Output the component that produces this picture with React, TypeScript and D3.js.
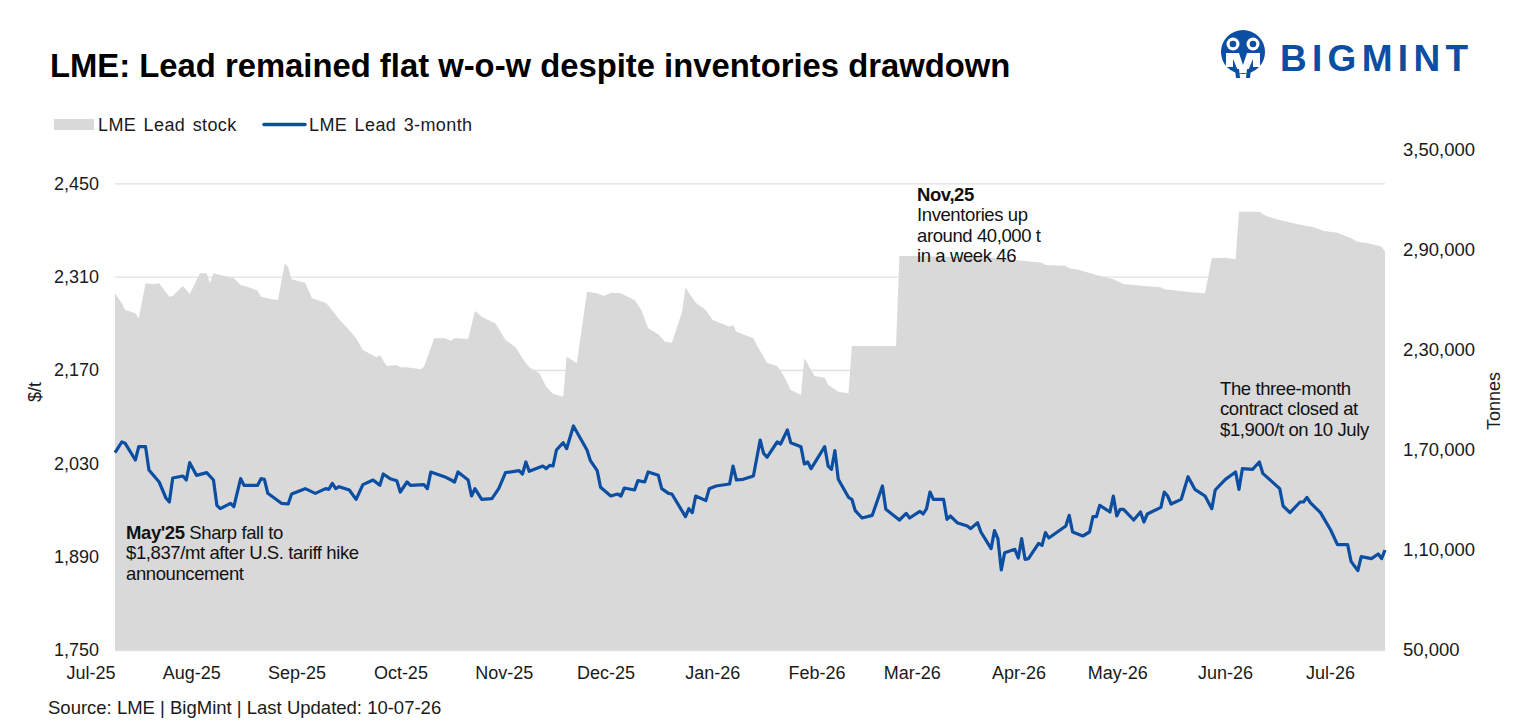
import React, { useEffect, useRef } from 'react';
import * as d3 from 'd3';

// LME lead 3-month price ($/t)
const priceDates = [
  "2025-07-01", "2025-07-03", "2025-07-04", "2025-07-07", "2025-07-08", "2025-07-10", "2025-07-11", "2025-07-14",
  "2025-07-16", "2025-07-17", "2025-07-18", "2025-07-21", "2025-07-22", "2025-07-23", "2025-07-25", "2025-07-28",
  "2025-07-30", "2025-07-31", "2025-08-01", "2025-08-04", "2025-08-05", "2025-08-07", "2025-08-08", "2025-08-12",
  "2025-08-13", "2025-08-14", "2025-08-15", "2025-08-19", "2025-08-21", "2025-08-22", "2025-08-26", "2025-08-29",
  "2025-09-01", "2025-09-02", "2025-09-03", "2025-09-04", "2025-09-05", "2025-09-08", "2025-09-10", "2025-09-12",
  "2025-09-15", "2025-09-17", "2025-09-18", "2025-09-20", "2025-09-22", "2025-09-23", "2025-09-25", "2025-09-26",
  "2025-09-30", "2025-10-01", "2025-10-02", "2025-10-06", "2025-10-08", "2025-10-09", "2025-10-10", "2025-10-13",
  "2025-10-14", "2025-10-15", "2025-10-17", "2025-10-20", "2025-10-22", "2025-10-24", "2025-10-28", "2025-10-29",
  "2025-10-30", "2025-10-31", "2025-11-04", "2025-11-05", "2025-11-06", "2025-11-07", "2025-11-08", "2025-11-10",
  "2025-11-11", "2025-11-13", "2025-11-17", "2025-11-18", "2025-11-20", "2025-11-21", "2025-11-24", "2025-11-26",
  "2025-11-27", "2025-11-28", "2025-12-01", "2025-12-02", "2025-12-04", "2025-12-05", "2025-12-08", "2025-12-09",
  "2025-12-11", "2025-12-12", "2025-12-16", "2025-12-17", "2025-12-18", "2025-12-19", "2025-12-22", "2025-12-23",
  "2025-12-25", "2025-12-29", "2025-12-30", "2025-12-31", "2026-01-02", "2026-01-05", "2026-01-07", "2026-01-08",
  "2026-01-09", "2026-01-12", "2026-01-13", "2026-01-15", "2026-01-16", "2026-01-19", "2026-01-20", "2026-01-21",
  "2026-01-22", "2026-01-26", "2026-01-27", "2026-01-28", "2026-01-29", "2026-01-30", "2026-02-02", "2026-02-03",
  "2026-02-04", "2026-02-06", "2026-02-09", "2026-02-12", "2026-02-13", "2026-02-17", "2026-02-19", "2026-02-20",
  "2026-02-23", "2026-02-24", "2026-02-25", "2026-02-26", "2026-02-27", "2026-03-02", "2026-03-03", "2026-03-04",
  "2026-03-06", "2026-03-09", "2026-03-10", "2026-03-12", "2026-03-13", "2026-03-16", "2026-03-17", "2026-03-18",
  "2026-03-19", "2026-03-20", "2026-03-23", "2026-03-24", "2026-03-25", "2026-03-26", "2026-03-27", "2026-03-30",
  "2026-03-31", "2026-04-01", "2026-04-02", "2026-04-07", "2026-04-08", "2026-04-09", "2026-04-12", "2026-04-14",
  "2026-04-15", "2026-04-16", "2026-04-17", "2026-04-20", "2026-04-21", "2026-04-22", "2026-04-23", "2026-04-24",
  "2026-04-27", "2026-04-29", "2026-04-30", "2026-05-01", "2026-05-05", "2026-05-06", "2026-05-07", "2026-05-08",
  "2026-05-11", "2026-05-13", "2026-05-15", "2026-05-18", "2026-05-20", "2026-05-21", "2026-05-24", "2026-05-27",
  "2026-05-28", "2026-05-29", "2026-06-01", "2026-06-03", "2026-06-04", "2026-06-09", "2026-06-10", "2026-06-12",
  "2026-06-15", "2026-06-16", "2026-06-17", "2026-06-18", "2026-06-21", "2026-06-24", "2026-06-26", "2026-06-29",
  "2026-06-30", "2026-07-02", "2026-07-03", "2026-07-06", "2026-07-08", "2026-07-09", "2026-07-10",
];
const priceValues = [
  2046, 2062, 2060, 2035, 2055, 2055, 2020, 2002,
  1978, 1972, 2008, 2011, 2005, 2031, 2012, 2016,
  2005, 1967, 1962, 1970, 1965, 2007, 1997, 1997,
  2007, 2006, 1985, 1970, 1969, 1984, 1992, 1985,
  1992, 1991, 2000, 1992, 1995, 1990, 1976, 1998,
  2005, 1997, 2014, 2007, 2004, 1987, 2002, 1997,
  1998, 1992, 2017, 2010, 2005, 2002, 2017, 2005,
  1981, 1992, 1976, 1977, 1992, 2016, 2019, 2014,
  2032, 2018, 2026, 2022, 2027, 2026, 2050, 2061,
  2052, 2086, 2050, 2034, 2019, 1994, 1981, 1984,
  1981, 1993, 1990, 2004, 2002, 2017, 2012, 1992,
  1985, 1984, 1950, 1962, 1956, 1981, 1974, 1992,
  1996, 1999, 2026, 2005, 2006, 2011, 2065, 2045,
  2039, 2062, 2059, 2080, 2061, 2055, 2029, 2032,
  2022, 2055, 2026, 2021, 2049, 2006, 1979, 1976,
  1959, 1948, 1952, 1996, 1961, 1945, 1955, 1948,
  1958, 1954, 1962, 1987, 1976, 1976, 1946, 1951,
  1941, 1936, 1932, 1941, 1927, 1902, 1929, 1917,
  1870, 1896, 1901, 1888, 1917, 1886, 1887, 1910,
  1907, 1926, 1918, 1936, 1952, 1927, 1921, 1927,
  1950, 1950, 1967, 1957, 1981, 1951, 1961, 1961,
  1945, 1957, 1942, 1954, 1964, 1987, 1981, 1969,
  1976, 2010, 1991, 1981, 1962, 1990, 2006, 2017,
  1991, 2022, 2021, 2032, 2015, 1992, 1966, 1956,
  1972, 1972, 1979, 1971, 1956, 1930, 1908, 1908,
  1883, 1869, 1890, 1887, 1894, 1887, 1900,
];

// LME lead stock (tonnes)
const stockDates = [
  "2025-07-01", "2025-07-03", "2025-07-04", "2025-07-07", "2025-07-08", "2025-07-10", "2025-07-12", "2025-07-14",
  "2025-07-17", "2025-07-18", "2025-07-21", "2025-07-23", "2025-07-26", "2025-07-28", "2025-07-29", "2025-07-30",
  "2025-08-01", "2025-08-05", "2025-08-07", "2025-08-09", "2025-08-12", "2025-08-13", "2025-08-15", "2025-08-16",
  "2025-08-18", "2025-08-20", "2025-08-21", "2025-08-22", "2025-08-26", "2025-08-28", "2025-09-01", "2025-09-02",
  "2025-09-05", "2025-09-08", "2025-09-10", "2025-09-12", "2025-09-16", "2025-09-17", "2025-09-19", "2025-09-22",
  "2025-09-23", "2025-09-25", "2025-09-29", "2025-09-30", "2025-10-03", "2025-10-06", "2025-10-08", "2025-10-09",
  "2025-10-13", "2025-10-15", "2025-10-17", "2025-10-20", "2025-10-21", "2025-10-24", "2025-10-27", "2025-10-29",
  "2025-10-31", "2025-11-03", "2025-11-05", "2025-11-07", "2025-11-10", "2025-11-11", "2025-11-14", "2025-11-17",
  "2025-11-20", "2025-11-22", "2025-11-24", "2025-11-27", "2025-11-29", "2025-12-01", "2025-12-03", "2025-12-05",
  "2025-12-08", "2025-12-10", "2025-12-12", "2025-12-15", "2025-12-16", "2025-12-19", "2025-12-22", "2025-12-24",
  "2025-12-29", "2025-12-30", "2025-12-31", "2026-01-05", "2026-01-06", "2026-01-09", "2026-01-12", "2026-01-14",
  "2026-01-16", "2026-01-19", "2026-01-20", "2026-01-23", "2026-01-26", "2026-01-27", "2026-01-30", "2026-02-02",
  "2026-02-03", "2026-02-16", "2026-02-17", "2026-02-22", "2026-03-18", "2026-03-31", "2026-04-01", "2026-04-07",
  "2026-04-08", "2026-04-11", "2026-04-16", "2026-04-21", "2026-04-24", "2026-04-30", "2026-05-05", "2026-05-06",
  "2026-05-14", "2026-05-18", "2026-05-20", "2026-05-24", "2026-05-27", "2026-05-28", "2026-06-03", "2026-06-05",
  "2026-06-09", "2026-06-14", "2026-06-19", "2026-06-22", "2026-06-26", "2026-06-30", "2026-07-02", "2026-07-05",
  "2026-07-09", "2026-07-10",
];
const stockValues = [
  264000, 258000, 254000, 252000, 249000, 270000, 269400, 270000,
  262000, 262400, 268400, 263400, 276000, 276000, 270000, 276000,
  275000, 273000, 269000, 268000, 265600, 262000, 261000, 260400,
  260000, 282000, 279600, 272400, 270400, 261000, 258400, 256400,
  248400, 242000, 237000, 230000, 225600, 227000, 220400, 221000,
  219600, 219600, 218400, 220000, 237000, 237000, 235600, 237000,
  236600, 253400, 250000, 247000, 246000, 236000, 231600, 225000,
  219600, 216000, 208000, 203600, 202000, 226000, 222000, 265000,
  264000, 262400, 264400, 264000, 262000, 260000, 254000, 243000,
  239400, 235000, 234400, 253000, 267400, 258400, 254000, 248000,
  244000, 245000, 241000, 237000, 233000, 222400, 220400, 214400,
  206000, 203000, 225000, 214400, 213400, 209000, 205000, 204000,
  232400, 232400, 286400, 286400, 285200, 282400, 281000, 280600,
  279000, 278000, 275000, 272400, 269600, 268400, 267600, 266400,
  264600, 264000, 285000, 285400, 284400, 313000, 313000, 310400,
  308000, 305600, 303600, 301400, 300400, 297000, 295000, 294000,
  292000, 289000,
];

const monthTicks = [
  "2025-07-01", "2025-08-01", "2025-09-01", "2025-10-01", "2025-11-01", "2025-12-01", "2026-01-01",
  "2026-02-01", "2026-03-01", "2026-04-01", "2026-05-01", "2026-06-01", "2026-07-01",
];
const priceTicks = [1750, 1890, 2030, 2170, 2310, 2450];
const stockTicks = [50000, 110000, 170000, 230000, 290000, 350000];

const FONT = "'Liberation Sans', Arial, sans-serif";
const BLUE = "#0b4ea2";

// Indian digit grouping: 3,50,000
function indian(n: number) {
  const s = Math.round(n).toString();
  if (s.length <= 3) return s;
  const last3 = s.slice(-3);
  let rest = s.slice(0, -3);
  const parts: string[] = [];
  while (rest.length > 2) {
    parts.unshift(rest.slice(-2));
    rest = rest.slice(0, -2);
  }
  if (rest) parts.unshift(rest);
  return parts.join(",") + "," + last3;
}

export default function App() {
  const containerRef = useRef<HTMLDivElement>(null);

  useEffect(() => {
    if (!containerRef.current) return;
    const container = d3.select(containerRef.current);
    container.selectAll("*").remove();

    const width = 1523;
    const height = 724;
    const margin = { top: 150, right: 138, bottom: 74, left: 115 };
    const innerWidth = width - margin.left - margin.right;
    const innerHeight = height - margin.top - margin.bottom;

    const parse = d3.timeParse("%Y-%m-%d");
    const price = priceDates.map((d, i) => ({ date: parse(d) as Date, value: priceValues[i] }));
    const stock = stockDates.map((d, i) => ({ date: parse(d) as Date, value: stockValues[i] }));

    const svg = container.append("svg")
      .attr("width", width)
      .attr("height", height)
      .style("font-family", FONT)
      .style("display", "block");

    svg.append("rect").attr("width", width).attr("height", height).attr("fill", "#ffffff");

    const g = svg.append("g")
      .attr("transform", `translate(${margin.left},${margin.top})`);

    const xScale = d3.scaleTime()
      .domain([parse("2025-07-01") as Date, parse("2026-07-10") as Date])
      .range([0, innerWidth]);
    const yLeft = d3.scaleLinear().domain([1750, 2500]).range([innerHeight, 0]);
    const yRight = d3.scaleLinear().domain([50000, 350000]).range([innerHeight, 0]);

    // grid lines (behind the series)
    g.append("g")
      .call(d3.axisLeft(yLeft).tickValues(priceTicks).tickSize(-innerWidth).tickFormat(() => ""))
      .call(s => s.select(".domain").remove())
      .selectAll("line")
      .attr("stroke", "#e1e1e1")
      .attr("stroke-width", 1.3);

    // stock area
    const area = d3.area<{ date: Date; value: number }>()
      .x(d => xScale(d.date))
      .y0(innerHeight)
      .y1(d => yRight(d.value));
    g.append("path")
      .datum(stock)
      .attr("fill", "#d9d9d9")
      .attr("d", area);

    // price line
    const line = d3.line<{ date: Date; value: number }>()
      .x(d => xScale(d.date))
      .y(d => yLeft(d.value));
    g.append("path")
      .datum(price)
      .attr("fill", "none")
      .attr("stroke", BLUE)
      .attr("stroke-width", 3.2)
      .attr("stroke-linejoin", "round")
      .attr("d", line);

    // axes
    const styleAxis = (sel: d3.Selection<SVGGElement, unknown, null, undefined>) => {
      sel.select(".domain").remove();
      sel.selectAll("text")
        .style("font-family", FONT)
        .style("font-size", "18px")
        .attr("fill", "#1a1a1a");
    };

    g.append("g")
      .call(d3.axisLeft(yLeft).tickValues(priceTicks).tickSize(0).tickPadding(16).tickFormat(d3.format(",")))
      .call(styleAxis);

    g.append("g")
      .attr("transform", `translate(${innerWidth},0)`)
      .call(d3.axisRight(yRight).tickValues(stockTicks).tickSize(0).tickPadding(18).tickFormat(d => indian(d as number)))
      .call(styleAxis)
      .selectAll("text")
      .style("font-size", "18.5px");

    g.append("g")
      .attr("transform", `translate(0,${innerHeight})`)
      .call(d3.axisBottom(xScale).tickValues(monthTicks.map(d => parse(d) as Date)).tickSize(0).tickPadding(16)
        .tickFormat(d => d3.timeFormat("%b-%y")(d as Date)))
      .call(styleAxis)
      .selectAll("text")
      .attr("text-anchor", "end");

    // axis titles
    svg.append("text")
      .attr("transform", "translate(41,392) rotate(-90)")
      .attr("text-anchor", "middle")
      .style("font-size", "18px")
      .attr("fill", "#1a1a1a")
      .text("$/t");
    svg.append("text")
      .attr("transform", "translate(1500,401) rotate(-90)")
      .attr("text-anchor", "middle")
      .style("font-size", "18px")
      .attr("fill", "#1a1a1a")
      .text("Tonnes");

    // title
    svg.append("text")
      .attr("x", 50).attr("y", 77)
      .style("font-size", "32.8px")
      .style("font-weight", "bold")
      .attr("fill", "#000")
      .text("LME: Lead remained flat w-o-w despite inventories drawdown");

    // legend
    const legend = svg.append("g").style("font-size", "18px")
      .style("letter-spacing", "0.4px").style("word-spacing", "2px");
    legend.append("rect").attr("x", 54).attr("y", 119).attr("width", 40).attr("height", 11).attr("fill", "#d9d9d9");
    legend.append("text").attr("x", 98).attr("y", 131).attr("fill", "#1a1a1a").text("LME Lead stock");
    legend.append("line").attr("x1", 264).attr("x2", 305).attr("y1", 124.5).attr("y2", 124.5)
      .attr("stroke", BLUE).attr("stroke-width", 3.5).attr("stroke-linecap", "round");
    legend.append("text").attr("x", 309).attr("y", 131).attr("fill", "#1a1a1a").text("LME Lead 3-month");

    // annotations
    const note = (x: number, y: number, lines: { bold?: string; text: string }[]) => {
      const t = svg.append("text").attr("fill", "#111")
        .style("font-size", "18.5px").style("letter-spacing", "-0.4px");
      lines.forEach((l, i) => {
        const ts = t.append("tspan").attr("x", x).attr("y", y + i * 20.5);
        if (l.bold) {
          ts.append("tspan").style("font-weight", "bold").text(l.bold);
        }
        ts.append("tspan").text(l.text);
      });
    };
    note(917, 200.5, [
      { bold: "Nov,25", text: "" },
      { text: "Inventories up" },
      { text: "around 40,000 t" },
      { text: "in a week 46" },
    ]);
    note(1220, 394.5, [
      { text: "The three-month" },
      { text: "contract closed at" },
      { text: "$1,900/t on 10 July" },
    ]);
    note(126, 538.5, [
      { bold: "May'25", text: " Sharp fall to" },
      { text: "$1,837/mt after U.S. tariff hike" },
      { text: "announcement" },
    ]);

    // source
    svg.append("text")
      .attr("x", 48).attr("y", 714)
      .style("font-size", "18.5px")
      .attr("fill", "#1a1a1a")
      .text("Source: LME | BigMint | Last Updated: 10-07-26");

    // BigMint logo
    const logo = svg.append("g");
    logo.append("circle").attr("cx", 1243).attr("cy", 52).attr("r", 22).attr("fill", BLUE);
    [1233, 1253].forEach(cx => {
      logo.append("circle").attr("cx", cx).attr("cy", 44).attr("r", 6.5).attr("fill", "#fff");
      logo.append("circle").attr("cx", cx).attr("cy", 44).attr("r", 3.3).attr("fill", BLUE);
    });
    logo.append("path")
      .attr("d", "M1226,53 L1239,53 L1243,65 L1247,53 L1260,53 L1260,67 L1253,67 L1253,59 L1247,73 L1239,73 L1233,59 L1233,67 L1226,67 Z")
      .attr("fill", "#fff");
    logo.append("path")
      .attr("d", "M1235,69 L1239,69 L1240,78 L1236,78 Z M1247,69 L1251,69 L1250,78 L1246,78 Z")
      .attr("fill", BLUE);
    logo.append("text")
      .attr("x", 1280).attr("y", 71)
      .style("font-size", "37px")
      .style("font-weight", "bold")
      .style("letter-spacing", "5.3px")
      .attr("fill", BLUE)
      .text("BIGMINT");
  }, []);

  return (
    <div style={{ position: "absolute", left: 0, top: 0, width: 1523, height: 724, overflow: "hidden" }}>
      <div ref={containerRef} />
    </div>
  );
}
